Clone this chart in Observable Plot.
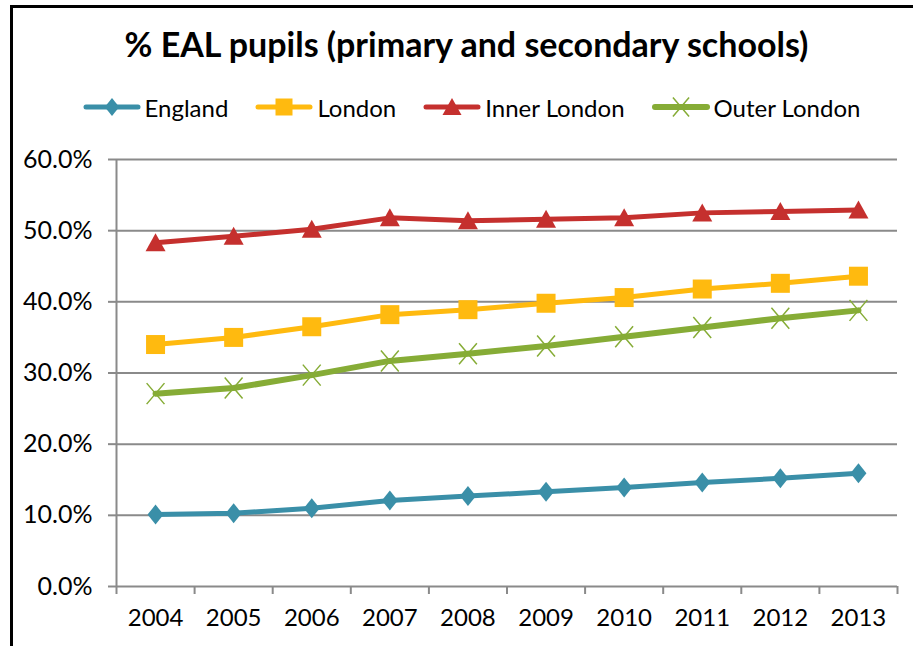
<!DOCTYPE html>
<html>
<head>
<meta charset="utf-8">
<script src="https://cdn.jsdelivr.net/npm/d3@7"></script>
<script src="https://cdn.jsdelivr.net/npm/@observablehq/plot@0.6"></script>
<style>
  html, body { margin: 0; padding: 0; background: #fff; }
  body { width: 913px; height: 646px; overflow: hidden; position: relative; font-family: Lato, "Open Sans", sans-serif; color: #000; }
  #frame { position: absolute; left: 10px; top: 5px; width: 1000px; height: 1000px; border: 3px solid #000; box-sizing: border-box; pointer-events: none; }
  #title { height: 78px; box-sizing: border-box; padding-top: 27px; text-align: center; font-weight: 700; font-size: 34px; line-height: 1; padding-left: 20px; white-space: nowrap; }
  #legend { height: 58px; display: flex; align-items: center; justify-content: center; padding-left: 30px; box-sizing: border-box; white-space: nowrap; }
  .item { display: flex; align-items: center; margin: 0 13.5px; font-size: 24px; }
  .item svg { margin-right: 4px; }
</style>
</head>
<body>
<div id="frame"></div>
<div id="title">% EAL pupils (primary and secondary schools)</div>
<div id="legend"></div>
<div id="chart"></div>
<script>
// ---- data ----
const years = [2004, 2005, 2006, 2007, 2008, 2009, 2010, 2011, 2012, 2013];
const seriesNames = ["England", "London", "Inner London", "Outer London"];
const england     = [10.1, 10.3, 11.0, 12.1, 12.7, 13.3, 13.9, 14.6, 15.2, 15.9];
const london      = [34.0, 35.0, 36.5, 38.2, 38.9, 39.8, 40.6, 41.8, 42.6, 43.6];
const innerLondon = [48.3, 49.2, 50.2, 51.8, 51.4, 51.6, 51.8, 52.5, 52.7, 52.9];
const outerLondon = [27.1, 27.9, 29.7, 31.7, 32.7, 33.8, 35.1, 36.4, 37.7, 38.8];
const yTicks = [0, 10, 20, 30, 40, 50, 60];

const seriesValues = [england, london, innerLondon, outerLondon];
const colors = ["#3A8FA8", "#FFBA0F", "#C5302E", "#86AC36"];

// custom marker shapes
const diamondSym = { draw(ctx, size) { const r = Math.sqrt(size / Math.PI);
  ctx.moveTo(0, -r); ctx.lineTo(0.8 * r, 0); ctx.lineTo(0, r); ctx.lineTo(-0.8 * r, 0); ctx.closePath(); } };
const squareSym = { draw(ctx, size) { const r = Math.sqrt(size / Math.PI);
  ctx.rect(-r, -r, 2 * r, 2 * r); } };
const triangleSym = { draw(ctx, size) { const r = Math.sqrt(size / Math.PI);
  ctx.moveTo(0, -0.95 * r); ctx.lineTo(r, 0.85 * r); ctx.lineTo(-r, 0.85 * r); ctx.closePath(); } };
const timesSym = { draw(ctx, size) { const r = Math.sqrt(size / Math.PI);
  ctx.moveTo(-0.85 * r, -r); ctx.lineTo(0.85 * r, r); ctx.moveTo(0.85 * r, -r); ctx.lineTo(-0.85 * r, r); } };

const styles = [
  { sym: diamondSym, r: 10, filled: true, lw: 5, legendR: 9 },
  { sym: squareSym, r: 9.5, filled: true, lw: 5, legendR: 8.5 },
  { sym: triangleSym, r: 10, filled: true, lw: 5, legendR: 9.5 },
  { sym: timesSym, r: 10.5, filled: false, lw: 6, legendR: 9.5 }
];

const data = seriesNames.flatMap((s, j) => years.map((yr, i) => ({ series: s, year: yr, value: seriesValues[j][i] })));

// ---- legend ----
const legend = document.getElementById("legend");
seriesNames.forEach((s, j) => {
  const st = styles[j];
  const p = d3.path(); st.sym.draw(p, Math.PI * st.legendR * st.legendR);
  const item = document.createElement("div");
  item.className = "item";
  item.innerHTML = `<svg width="58" height="24" viewBox="-29 -12 58 24">
    <line x1="-26" x2="26" y1="0" y2="0" stroke="${colors[j]}" stroke-width="${st.lw}" stroke-linecap="round"/>
    <path d="${p}" fill="${st.filled ? colors[j] : "none"}" stroke="${colors[j]}" stroke-width="${st.filled ? 0 : 1.5}"/>
  </svg><span>${s}</span>`;
  legend.appendChild(item);
});

// ---- chart ----
const gray = "#8a8a8a";
const boundaries = d3.range(years.length + 1).map(i => years[0] - 0.5 + i);
const marks = [
  Plot.ruleY(yTicks, { stroke: gray, strokeWidth: 2 }),
  Plot.ruleX([boundaries[0]], { y1: 0, y2: yTicks[yTicks.length - 1], stroke: gray, strokeWidth: 2 }),
  Plot.axisY({ ticks: yTicks, tickFormat: d => d.toFixed(1) + "%", tickSize: 8, tickPadding: 16, stroke: gray, strokeWidth: 2, label: null, fontSize: 25 }),
  Plot.axisX({ ticks: boundaries, tickFormat: () => "", tickSize: 8, stroke: gray, strokeWidth: 2, label: null }),
  Plot.axisX({ ticks: years, tickFormat: d => String(d), tickSize: 0, tickPadding: 22, label: null, fontSize: 24 })
];
seriesNames.forEach((s, j) => {
  const st = styles[j];
  const d = data.filter(e => e.series === s);
  marks.push(Plot.line(d, { x: "year", y: "value", stroke: colors[j], strokeWidth: st.lw, strokeLinejoin: "round", strokeLinecap: "round" }));
  marks.push(Plot.dot(d, { x: "year", y: "value", symbol: st.sym, r: st.r,
    fill: st.filled ? colors[j] : "none", stroke: colors[j], strokeWidth: st.filled ? 0 : 1.5 }));
});

const chart = Plot.plot({
  width: 913, height: 510,
  marginTop: 23, marginBottom: 60, marginLeft: 116, marginRight: 16,
  style: { fontFamily: "Lato, 'Open Sans', sans-serif", fontSize: "23px", color: "#000", background: "transparent", overflow: "visible" },
  x: { domain: [boundaries[0], boundaries[boundaries.length - 1]] },
  y: { domain: [0, 60] },
  marks
});
document.getElementById("chart").appendChild(chart);
</script>
</body>
</html>
